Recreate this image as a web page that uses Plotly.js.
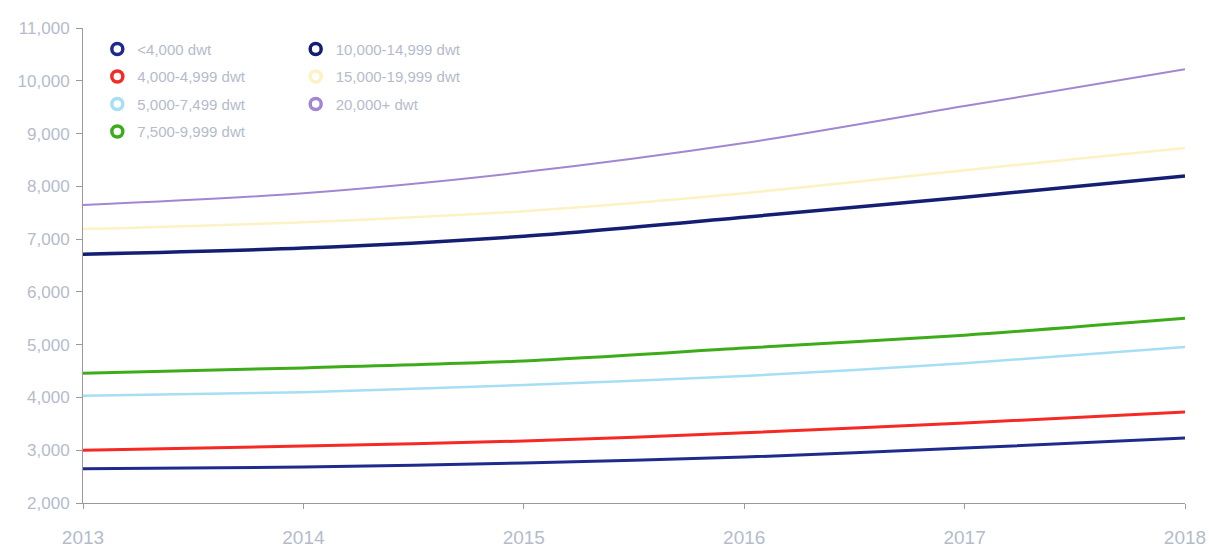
<!DOCTYPE html>
<html>
<head>
<meta charset="utf-8">
<script src="https://cdn.plot.ly/plotly-3.0.1.min.js"></script>
<style>html,body{margin:0;padding:0;background:#fff;}#chart{width:1209px;height:547px;}</style>
</head>
<body>
<div id="chart"></div>
<script>
var years = [2013, 2014, 2015, 2016, 2017, 2018];
var seriesNames = ['<4,000 dwt', '4,000-4,999 dwt', '5,000-7,499 dwt', '7,500-9,999 dwt', '10,000-14,999 dwt', '15,000-19,999 dwt', '20,000+ dwt'];
var under4000 = [2650, 2680, 2760, 2870, 3040, 3230];
var d4000_4999 = [3000, 3080, 3175, 3330, 3515, 3725];
var d5000_7499 = [4030, 4100, 4235, 4405, 4650, 4955];
var d7500_9999 = [4460, 4560, 4690, 4935, 5180, 5500];
var d10000_14999 = [6715, 6830, 7055, 7415, 7795, 8195];
var d15000_19999 = [7190, 7320, 7530, 7870, 8305, 8725];
var d20000plus = [7645, 7870, 8270, 8820, 9520, 10220];
var yTicks = [2000, 3000, 4000, 5000, 6000, 7000, 8000, 9000, 10000, 11000];

var values = [under4000, d4000_4999, d5000_7499, d7500_9999, d10000_14999, d15000_19999, d20000plus];
var colors = ['#1f2b8c', '#f52a24', '#a6def4', '#3dac1a', '#141f73', '#fdf2c4', '#a386d2'];
var widths = [3, 3, 2.5, 3, 3.5, 2.5, 2];
var legendIds = ['legend', 'legend', 'legend', 'legend', 'legend2', 'legend2', 'legend2'];

var traces = [];
for (var i = 0; i < values.length; i++) {
  traces.push({
    x: years, y: values[i], type: 'scatter', mode: 'lines',
    line: {color: colors[i], width: widths[i], shape: 'spline', smoothing: 0.8},
    showlegend: false, hoverinfo: 'skip'
  });
}
for (var j = 0; j < values.length; j++) {
  traces.push({
    x: [null], y: [null], type: 'scatter', mode: 'markers', name: seriesNames[j],
    marker: {symbol: 'circle-open', size: 11, color: colors[j], line: {width: 3.5, color: colors[j]}},
    legend: legendIds[j], legendgroup: 'g' + j, showlegend: true
  });
}

var fontColor = '#b4bccb';
var layout = {
  width: 1209, height: 547,
  margin: {l: 83, r: 24, t: 28, b: 44},
  paper_bgcolor: '#ffffff', plot_bgcolor: '#ffffff',
  font: {family: 'Liberation Sans, Arial, sans-serif', size: 15, color: fontColor},
  showlegend: true,
  xaxis: {
    range: [2013, 2018], tickvals: years, ticktext: years.map(String),
    showgrid: false, zeroline: false, showline: true, linecolor: '#9a9a9a', linewidth: 1,
    ticks: 'outside', ticklen: 5, tickcolor: '#9a9a9a', ticklabelstandoff: 12,
    tickfont: {size: 19, color: fontColor}
  },
  yaxis: {
    range: [2000, 11000], tickvals: yTicks, tickformat: ',d',
    showgrid: false, zeroline: false, showline: true, linecolor: '#9a9a9a', linewidth: 1,
    ticks: 'outside', ticklen: 6, tickcolor: '#9a9a9a', ticklabelstandoff: 3,
    tickfont: {size: 17, color: fontColor}
  },
  legend: {
    x: 0.013, y: 0.99, xanchor: 'left', yanchor: 'top', bgcolor: 'rgba(0,0,0,0)',
    font: {size: 15, color: fontColor}, tracegroupgap: 5, itemwidth: 30,
    traceorder: 'grouped'
  },
  legend2: {
    x: 0.193, y: 0.99, xanchor: 'left', yanchor: 'top', bgcolor: 'rgba(0,0,0,0)',
    font: {size: 15, color: fontColor}, tracegroupgap: 5, itemwidth: 30,
    traceorder: 'grouped'
  }
};

Plotly.newPlot('chart', traces, layout, {displayModeBar: false, staticPlot: true});
</script>
</body>
</html>
